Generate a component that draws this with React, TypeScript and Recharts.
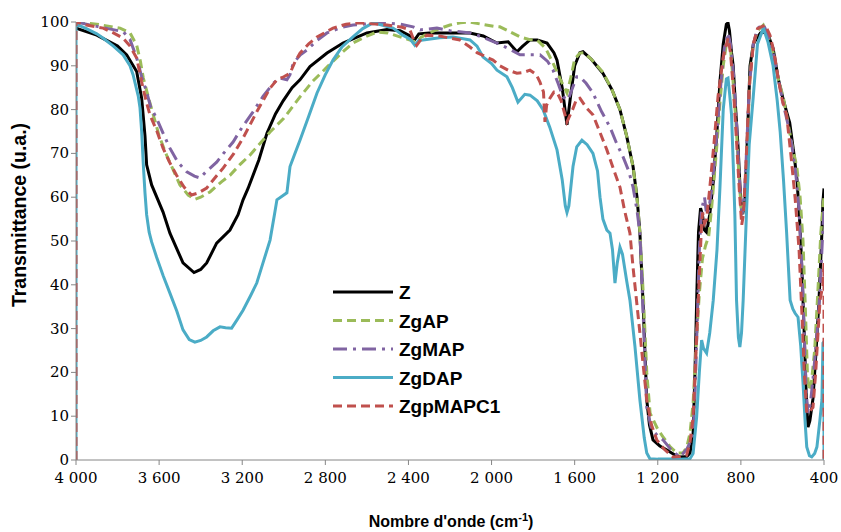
import React from 'react';
import { LineChart, Line, XAxis, YAxis, Legend } from 'recharts';

const xTicks = [4000, 3600, 3200, 2800, 2400, 2000, 1600, 1200, 800, 400];
const yTicks = [0, 10, 20, 30, 40, 50, 60, 70, 80, 90, 100];

// [wavenumber (cm-1), transmittance]
const Z: [number, number][] = [
  [4000, 98.6], [3900, 97], [3800, 94.5], [3756, 92.5], [3708, 88.7], [3684, 82.6], [3668, 74], [3660, 67.4],
  [3636, 62.8], [3581, 56.6], [3548, 51.8], [3485, 45], [3432, 42.8], [3400, 43.5], [3371, 45], [3323, 49.5],
  [3259, 52.5], [3220, 56], [3196, 59.4], [3172, 62], [3120, 68.5], [3081, 74.6], [3040, 79], [3003, 82],
  [2960, 85], [2922, 86.8], [2874, 89.8], [2792, 92.9], [2715, 95.2], [2600, 97.5], [2503, 98.3], [2440, 98],
  [2400, 97], [2369, 96], [2350, 97.3], [2300, 97.5], [2200, 97.5], [2104, 97.5], [2040, 96.8], [1974, 95.2],
  [1920, 95.5], [1878, 93.2], [1850, 94.5], [1815, 95.9], [1780, 95.9], [1733, 95.2], [1700, 93], [1685, 91.3],
  [1660, 85], [1637, 76.5], [1620, 83], [1600, 90], [1575, 93], [1560, 93.2], [1520, 91.5], [1464, 88.3],
  [1420, 84.5], [1382, 80], [1350, 74], [1319, 67], [1300, 60], [1286, 51.8], [1270, 35], [1253, 13.7],
  [1240, 8], [1223, 4.6], [1190, 3.2], [1156, 2.3], [1120, 1.2], [1093, 0.7], [1060, 0.8], [1045, 1.6],
  [1030, 6], [1021, 20], [1012, 38], [1004, 52], [994, 57.5], [985, 56], [975, 52.5], [965, 52],
  [950, 56], [933, 63.5], [915, 75], [901, 86.3], [885, 95], [870, 99.5], [862, 99.8], [855, 98],
  [845, 93], [837, 90], [825, 80], [813, 71], [805, 63], [796, 56.6], [790, 56.5], [780, 59.8],
  [770, 72], [756, 90], [740, 95], [724, 96.3], [705, 97.5], [683, 97.7], [665, 96.5], [645, 94],
  [620, 87], [600, 83], [580, 79.5], [565, 77], [545, 70], [530, 64], [515, 53], [505, 42],
  [496, 30], [485, 14], [477, 7.5], [468, 9], [453, 14], [438, 25], [424, 36.5], [410, 52], [405, 59], [400, 62],
];

const ZgAP: [number, number][] = [
  [4000, 100], [3900, 99.5], [3788, 98.6], [3740, 97.5], [3708, 94.7], [3690, 91], [3676, 87.2], [3650, 82.5],
  [3628, 78.8], [3600, 74], [3564, 69.6], [3530, 66], [3500, 62.8], [3460, 60.5], [3428, 59.5], [3400, 60],
  [3355, 61.2], [3300, 63.5], [3259, 65], [3210, 67.5], [3163, 69.6], [3110, 72.5], [3066, 74.9], [3000, 78],
  [2922, 82.9], [2860, 86.5], [2792, 89.7], [2720, 93], [2667, 95.2], [2600, 96.8], [2552, 97.7], [2500, 97.5],
  [2441, 96.6], [2400, 96], [2360, 95.4], [2340, 96.5], [2300, 97.5], [2250, 98.5], [2200, 99.3], [2150, 99.8],
  [2104, 100], [2050, 99.5], [1990, 99], [1960, 98.9], [1920, 98], [1863, 96.6], [1820, 96], [1781, 95.9],
  [1740, 94], [1704, 90.6], [1670, 87], [1637, 83.8], [1620, 87], [1600, 91.5], [1575, 92.9], [1555, 93],
  [1520, 91.5], [1464, 88.5], [1420, 84.5], [1382, 80], [1350, 74], [1319, 67], [1300, 60], [1286, 52],
  [1270, 38], [1253, 20], [1237, 10.7], [1200, 7], [1175, 5.3], [1140, 3], [1108, 1.6], [1079, 1.6],
  [1060, 3], [1045, 6.1], [1030, 13], [1020, 22], [1012, 29], [1000, 38], [985, 46], [970, 49],
  [955, 51], [940, 58], [917, 71], [900, 82], [885, 90], [870, 95], [862, 96], [850, 94],
  [840, 88], [825, 78], [813, 68], [800, 58], [792, 56], [780, 60], [770, 72], [756, 88],
  [740, 95], [720, 98], [692, 99.3], [670, 97], [645, 93], [620, 87], [595, 82.6], [570, 76],
  [550, 71], [531, 67], [515, 60], [501, 50], [490, 35], [480, 20], [473, 16], [460, 18],
  [445, 25], [430, 38], [415, 52], [405, 58], [400, 60],
];

const ZgMAP: [number, number][] = [
  [4000, 100], [3900, 99], [3773, 97.8], [3740, 96], [3708, 91.8], [3684, 87.5], [3660, 84], [3640, 80.5],
  [3612, 78], [3580, 74.5], [3548, 71.2], [3510, 68], [3467, 65.8], [3430, 64.8], [3403, 64.4], [3370, 66],
  [3323, 68], [3290, 70], [3244, 72.6], [3200, 76], [3148, 79.5], [3100, 83], [3051, 86], [3018, 87.2],
  [2985, 86.8], [2970, 88], [2954, 90.6], [2920, 92.5], [2889, 93.6], [2840, 95.8], [2792, 97.5], [2720, 98.8],
  [2667, 99.3], [2523, 99.8], [2440, 99.5], [2378, 98.9], [2344, 98.2], [2263, 98.6], [2200, 98], [2104, 97.5],
  [2040, 96.5], [1974, 95.2], [1920, 94], [1863, 92.5], [1820, 92.5], [1767, 92.5], [1730, 91], [1704, 89],
  [1680, 86], [1656, 82.9], [1632, 82.2], [1610, 85], [1590, 87.5], [1575, 87.5], [1545, 86], [1512, 83.8],
  [1470, 79.5], [1430, 76], [1400, 72.5], [1367, 69.2], [1340, 66], [1319, 62.3], [1300, 57], [1286, 51.8],
  [1270, 33], [1253, 12], [1230, 7], [1200, 5.5], [1175, 4.6], [1130, 2], [1093, 0.7], [1060, 2.5],
  [1045, 4], [1030, 6], [1020, 16], [1010, 32], [1000, 48], [990, 57], [975, 60], [965, 56],
  [955, 57], [940, 62], [920, 72], [900, 84], [880, 94], [862, 97.5], [850, 95], [835, 88],
  [820, 76], [808, 65], [796, 56], [786, 58], [775, 68], [760, 85], [740, 95], [720, 98.5],
  [692, 99.5], [670, 97], [645, 93], [620, 87], [595, 81], [575, 77], [555, 72], [535, 65],
  [520, 57], [505, 42], [495, 28], [485, 15], [477, 10.7], [465, 13], [450, 20], [435, 28],
  [420, 38], [410, 48], [405, 53], [400, 57],
];

const ZgDAP: [number, number][] = [
  [4000, 0], [4000, 99.5], [3950, 98.5], [3900, 97.3], [3869, 96.3], [3820, 94.5], [3773, 92.5], [3740, 90],
  [3725, 87.9], [3700, 83], [3692, 80.4], [3684, 75], [3676, 67.4], [3668, 61], [3660, 56], [3648, 52],
  [3636, 49.8], [3612, 46.3], [3580, 42], [3548, 38.1], [3515, 34], [3485, 29.7], [3455, 27.5], [3428, 26.9],
  [3400, 27.3], [3371, 28.1], [3340, 29.5], [3307, 30.4], [3280, 30.2], [3251, 30.1], [3225, 32], [3196, 34.2],
  [3160, 37.5], [3130, 40.4], [3100, 45], [3066, 50.2], [3045, 56], [3033, 59.4], [3000, 60.5], [2985, 61],
  [2970, 67], [2950, 69.5], [2922, 73], [2880, 78.5], [2840, 83.8], [2800, 88], [2763, 91.3], [2720, 94.3],
  [2667, 96.6], [2620, 98.5], [2571, 99.8], [2520, 99.2], [2474, 98.6], [2427, 97], [2390, 96], [2369, 94.7],
  [2350, 95.8], [2330, 95.9], [2250, 96.4], [2186, 96.6], [2104, 95.9], [2070, 94.5], [2041, 92], [2000, 90.5],
  [1974, 89], [1926, 87.5], [1900, 85], [1873, 81.7], [1840, 83.5], [1815, 83.3], [1780, 82], [1752, 80],
  [1720, 76], [1685, 70.8], [1660, 64], [1645, 58], [1637, 56.5], [1628, 58], [1608, 67], [1590, 71.5],
  [1565, 73], [1540, 72], [1512, 70], [1490, 66], [1478, 60], [1464, 55], [1445, 52.5], [1430, 51.8],
  [1418, 48], [1406, 40.4], [1395, 45], [1382, 48.6], [1370, 47], [1350, 41], [1334, 36.5], [1310, 26],
  [1286, 13.7], [1265, 5], [1253, 1.6], [1238, 0.3], [1200, 0.2], [1100, 0.2], [1045, 0.3], [1030, 1.5],
  [1013, 9.8], [1000, 20], [989, 27.4], [980, 25.5], [965, 24.4], [950, 29], [933, 36.5], [915, 48],
  [901, 62], [885, 80], [870, 87], [862, 87.2], [855, 84], [845, 78.8], [835, 65], [829, 56],
  [821, 36.5], [812, 28], [805, 25.8], [797, 29], [789, 36.5], [773, 56.5], [760, 72], [741, 82.6],
  [720, 95], [692, 98.6], [670, 95.5], [645, 90], [625, 82], [611, 75], [595, 64], [580, 52],
  [563, 36.5], [550, 34.5], [539, 33.5], [525, 32.6], [512, 26], [501, 17.6], [490, 8], [483, 3],
  [470, 1], [459, 0.7], [445, 1.5], [434, 3], [420, 9], [410, 13.7], [405, 26.7], [400, 27], [400, 0],
];

const ZgpMAPC1: [number, number][] = [
  [4000, 0], [4000, 100], [3950, 99.3], [3869, 98.6], [3820, 97.5], [3773, 96.3], [3740, 94.5], [3708, 91.8],
  [3684, 86.3], [3660, 81.5], [3644, 78.8], [3610, 75], [3581, 71.2], [3550, 68], [3516, 65], [3480, 62.3],
  [3444, 60.5], [3410, 61], [3371, 62.1], [3330, 64.5], [3291, 66.7], [3240, 70], [3196, 73.5], [3130, 79.5],
  [3066, 84.9], [3033, 86.8], [3000, 87.5], [2970, 88.3], [2945, 91], [2922, 92.9], [2880, 95], [2840, 96.6],
  [2763, 98.6], [2700, 99.5], [2633, 99.8], [2503, 99.3], [2430, 98.8], [2393, 98.2], [2375, 96], [2360, 94.7],
  [2340, 96], [2311, 97], [2250, 96.8], [2200, 96.3], [2152, 95.9], [2104, 94.3], [2070, 93], [1993, 91.3],
  [1960, 90], [1920, 89], [1878, 88.3], [1845, 88.5], [1815, 89], [1785, 88], [1767, 86.3], [1750, 84],
  [1743, 77.2], [1735, 81], [1719, 82.6], [1700, 84], [1685, 84], [1665, 82], [1637, 77.2], [1610, 80],
  [1590, 82.5], [1575, 82.6], [1545, 80.5], [1512, 78.8], [1480, 75], [1445, 70.8], [1410, 66], [1382, 62.3],
  [1360, 57], [1350, 55], [1334, 51.8], [1319, 44], [1286, 29], [1253, 13.7], [1230, 8], [1205, 4.6],
  [1170, 2.5], [1127, 0.7], [1090, 0.8], [1061, 1.1], [1045, 4], [1030, 9.8], [1012, 29], [1000, 42],
  [990, 53], [984, 56.5], [975, 54], [965, 55], [950, 62], [930, 72], [910, 83], [885, 92],
  [862, 96.3], [850, 93], [835, 84], [820, 72], [808, 62], [796, 53.7], [788, 56], [775, 68],
  [760, 85], [740, 95], [720, 98.5], [683, 99.3], [660, 97], [640, 93], [620, 87], [600, 82],
  [580, 78.8], [560, 70], [539, 59.8], [520, 48], [505, 32], [495, 20], [483, 10.7], [470, 11],
  [453, 12], [440, 20], [430, 28], [419, 36.5], [405, 40], [400, 45], [400, 0],
];

const toRows = (pts: [number, number][]) => pts.map(([x, y]) => ({ x, y }));

const series = [
  { name: 'Z', pts: Z, color: '#000000', dash: undefined as string | undefined },
  { name: 'ZgAP', pts: ZgAP, color: '#9BBB59', dash: '9 5' },
  { name: 'ZgMAP', pts: ZgMAP, color: '#8064A2', dash: '14 6 3 6' },
  { name: 'ZgDAP', pts: ZgDAP, color: '#4BACC6', dash: undefined as string | undefined },
  { name: 'ZgpMAPC1', pts: ZgpMAPC1, color: '#C0504D', dash: '9 5' },
];

const fmtX = (v: number) =>
  v >= 1000 ? `${Math.floor(v / 1000)} ${String(v % 1000).padStart(3, '0')}` : String(v);

const XTick = (props: any) => {
  const { x, y, payload } = props;
  return (
    <text x={x} y={y} dy={16} textAnchor="middle" fontFamily="DejaVu Serif" fontSize={15} fill="#000">
      {fmtX(payload.value)}
    </text>
  );
};

const YTick = (props: any) => {
  const { x, y, payload } = props;
  return (
    <text x={x} y={y} dy={5} textAnchor="end" fontFamily="DejaVu Serif" fontSize={15} fill="#000">
      {payload.value}
    </text>
  );
};

const YTitle = () => (
  <text
    x={19}
    y={215}
    transform="rotate(-90 19 215)"
    textAnchor="middle"
    dominantBaseline="central"
    fontFamily="Liberation Sans"
    fontWeight="bold"
    fontSize={19.5}
    fill="#000"
  >
    Transmittance (u.a.)
  </text>
);

const XTitle = () => (
  <text x={451} y={527} textAnchor="middle" fontFamily="Liberation Sans" fontWeight="bold" fontSize={16} fill="#000">
    Nombre d'onde (cm
    <tspan dy={-6} fontSize={11}>-1</tspan>
    <tspan dy={6}>)</tspan>
  </text>
);

const LegendBox = () => (
  <svg width={200} height={145} style={{ display: 'block' }}>
    {series.map((s, i) => {
      const cy = 14 + i * 28.5;
      return (
        <g key={s.name}>
          <line x1={3} x2={63} y1={cy} y2={cy} stroke={s.color} strokeWidth={3} strokeDasharray={s.dash} />
          <text x={69} y={cy + 7} fontFamily="Liberation Sans" fontWeight="bold" fontSize={19} fill="#000">
            {s.name}
          </text>
        </g>
      );
    })}
  </svg>
);

export default function App() {
  return (
    <div style={{ position: 'absolute', left: 0, top: 0, background: '#fff' }}>
      <LineChart width={841} height={532} margin={{ top: 22, right: 17, bottom: 0, left: 0 }}>
        <XAxis
          type="number"
          dataKey="x"
          domain={[400, 4000]}
          reversed
          ticks={xTicks}
          interval={0}
          tick={<XTick />}
          tickSize={5}
          height={72}
          stroke="#868686"
          allowDataOverflow
          label={<XTitle />}
        />
        <YAxis
          type="number"
          dataKey="y"
          domain={[0, 100]}
          ticks={yTicks}
          interval={0}
          tick={<YTick />}
          tickSize={5}
          width={76}
          stroke="#868686"
          allowDataOverflow
          label={<YTitle />}
        />
        <Legend
          layout="vertical"
          align="center"
          verticalAlign="middle"
          content={<LegendBox />}
          wrapperStyle={{ position: 'absolute', left: 330, top: 278, width: 200, height: 145 }}
        />
        {series.map((s) => (
          <Line
            key={s.name}
            name={s.name}
            data={toRows(s.pts)}
            dataKey="y"
            type="linear"
            stroke={s.color}
            strokeWidth={3}
            strokeDasharray={s.dash}
            dot={false}
            activeDot={false}
            isAnimationActive={false}
          />
        ))}
      </LineChart>
    </div>
  );
}
